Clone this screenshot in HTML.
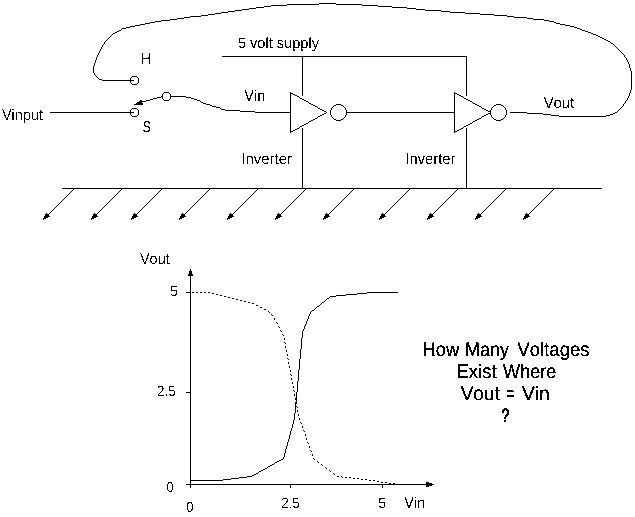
<!DOCTYPE html>
<html><head><meta charset="utf-8"><style>
html,body{margin:0;padding:0;background:#fff;}
svg{display:block;}
text{font-family:"Liberation Sans",sans-serif;font-size:15px;fill:#000;font-kerning:none;text-rendering:geometricPrecision;}
.big{font-size:19px;stroke:#000;stroke-width:0.25px;}
.l path,.l polyline,.l line{fill:none;stroke:#000;stroke-width:1;}
.l .f,.f{fill:#000;stroke:none;}
</style></head><body>
<svg width="635" height="517" viewBox="0 0 635 517">
<defs><filter id="th" x="0" y="0" width="635" height="517" filterUnits="userSpaceOnUse" color-interpolation-filters="sRGB"><feComponentTransfer><feFuncA type="discrete" tableValues="0 1"/></feComponentTransfer></filter><filter id="th2" x="0" y="0" width="635" height="517" filterUnits="userSpaceOnUse" color-interpolation-filters="sRGB"><feComponentTransfer><feFuncA type="discrete" tableValues="0 1"/></feComponentTransfer></filter></defs>
<rect width="635" height="517" fill="#fff"/>
<path fill="#000" shape-rendering="crispEdges" d="M319,3h17v1h-17zM287,4h32v1h-32zM336,4h26v1h-26zM271,5h16v1h-16zM362,5h16v1h-16zM264,6h7v1h-7zM378,6h14v1h-14zM256,7h8v1h-8zM392,7h15v1h-15zM249,8h7v1h-7zM407,8h9v1h-9zM242,9h7v1h-7zM416,9h9v1h-9zM235,10h7v1h-7zM425,10h16v1h-16zM228,11h7v1h-7zM441,11h9v1h-9zM221,12h7v1h-7zM450,12h15v1h-15zM215,13h6v1h-6zM465,13h15v1h-15zM208,14h7v1h-7zM480,14h14v1h-14zM201,15h7v1h-7zM494,15h13v1h-13zM190,16h11v1h-11zM507,16h7v1h-7zM184,17h6v1h-6zM514,17h13v1h-13zM177,18h7v1h-7zM527,18h6v1h-6zM170,19h7v1h-7zM533,19h11v1h-11zM161,20h9v1h-9zM544,20h5v1h-5zM155,21h6v1h-6zM549,21h5v1h-5zM150,22h5v1h-5zM554,22h2v1h-2zM145,23h5v1h-5zM556,23h4v1h-4zM140,24h5v1h-5zM560,24h5v1h-5zM135,25h5v1h-5zM565,25h5v1h-5zM130,26h5v1h-5zM570,26h4v1h-4zM126,27h4v1h-4zM574,27h3v1h-3zM122,28h4v1h-4zM577,28h3v1h-3zM121,29h1v1h-1zM580,29h2v1h-2zM119,30h2v1h-2zM582,30h3v1h-3zM117,31h2v1h-2zM585,31h3v1h-3zM115,32h2v1h-2zM588,32h3v1h-3zM113,33h2v1h-2zM591,33h2v1h-2zM112,34h1v1h-1zM593,34h3v1h-3zM111,35h1v1h-1zM596,35h2v1h-2zM110,36h1v1h-1zM598,36h2v1h-2zM109,37h1v1h-1zM600,37h2v1h-2zM108,38h1v1h-1zM602,38h2v1h-2zM107,39h1v1h-1zM604,39h2v1h-2zM106,40h1v1h-1zM606,40h2v1h-2zM105,41h1v1h-1zM608,41h2v1h-2zM104,42h1v1h-1zM610,42h1v1h-1zM104,43h1v1h-1zM611,43h2v1h-2zM103,44h1v1h-1zM613,44h1v1h-1zM102,45h1v1h-1zM614,45h1v1h-1zM102,46h1v1h-1zM615,46h1v1h-1zM101,47h1v1h-1zM616,47h1v1h-1zM101,48h1v1h-1zM617,48h1v1h-1zM100,49h1v1h-1zM618,49h1v1h-1zM100,50h1v1h-1zM619,50h1v1h-1zM99,51h1v1h-1zM620,51h1v1h-1zM99,52h1v1h-1zM621,52h1v1h-1zM98,53h1v1h-1zM622,53h1v1h-1zM98,54h1v1h-1zM623,54h1v1h-1zM97,55h1v1h-1zM624,55h1v1h-1zM97,56h1v1h-1zM222,56h245v1h-245zM624,56h1v1h-1zM96,57h1v1h-1zM302,57h1v1h-1zM466,57h1v1h-1zM625,57h1v1h-1zM96,58h1v1h-1zM302,58h1v1h-1zM466,58h1v1h-1zM626,58h1v1h-1zM96,59h1v1h-1zM302,59h1v1h-1zM466,59h1v1h-1zM626,59h1v1h-1zM95,60h1v1h-1zM302,60h1v1h-1zM466,60h1v1h-1zM627,60h1v1h-1zM95,61h1v1h-1zM302,61h1v1h-1zM466,61h1v1h-1zM627,61h1v1h-1zM95,62h1v1h-1zM302,62h1v1h-1zM466,62h1v1h-1zM628,62h1v1h-1zM94,63h1v1h-1zM302,63h1v1h-1zM466,63h1v1h-1zM628,63h1v1h-1zM94,64h1v1h-1zM302,64h1v1h-1zM466,64h1v1h-1zM629,64h1v1h-1zM94,65h1v1h-1zM302,65h1v1h-1zM466,65h1v1h-1zM629,65h1v1h-1zM93,66h1v1h-1zM302,66h1v1h-1zM466,66h1v1h-1zM629,66h1v1h-1zM93,67h1v1h-1zM302,67h1v1h-1zM466,67h1v1h-1zM629,67h1v1h-1zM93,68h1v1h-1zM302,68h1v1h-1zM466,68h1v1h-1zM630,68h1v1h-1zM93,69h1v1h-1zM302,69h1v1h-1zM466,69h1v1h-1zM630,69h1v1h-1zM93,70h1v1h-1zM302,70h1v1h-1zM466,70h1v1h-1zM630,70h1v1h-1zM93,71h1v1h-1zM302,71h1v1h-1zM466,71h1v1h-1zM631,71h1v1h-1zM93,72h1v1h-1zM302,72h1v1h-1zM466,72h1v1h-1zM631,72h1v1h-1zM94,73h1v1h-1zM302,73h1v1h-1zM466,73h1v1h-1zM631,73h1v1h-1zM94,74h1v1h-1zM302,74h1v1h-1zM466,74h1v1h-1zM631,74h1v1h-1zM95,75h1v1h-1zM302,75h1v1h-1zM466,75h1v1h-1zM631,75h1v1h-1zM96,76h1v1h-1zM132,76h5v1h-5zM302,76h1v1h-1zM466,76h1v1h-1zM631,76h1v1h-1zM97,77h1v1h-1zM131,77h1v1h-1zM137,77h1v1h-1zM302,77h1v1h-1zM466,77h1v1h-1zM631,77h1v1h-1zM98,78h1v1h-1zM130,78h1v1h-1zM138,78h1v1h-1zM302,78h1v1h-1zM466,78h1v1h-1zM631,78h1v1h-1zM99,79h3v1h-3zM130,79h1v1h-1zM138,79h1v1h-1zM302,79h1v1h-1zM466,79h1v1h-1zM631,79h1v1h-1zM102,80h32v1h-32zM138,80h1v1h-1zM302,80h1v1h-1zM466,80h1v1h-1zM631,80h1v1h-1zM130,81h1v1h-1zM138,81h1v1h-1zM302,81h1v1h-1zM466,81h1v1h-1zM631,81h1v1h-1zM130,82h1v1h-1zM138,82h1v1h-1zM302,82h1v1h-1zM466,82h1v1h-1zM631,82h1v1h-1zM131,83h1v1h-1zM137,83h1v1h-1zM302,83h1v1h-1zM466,83h1v1h-1zM631,83h1v1h-1zM132,84h5v1h-5zM302,84h1v1h-1zM466,84h1v1h-1zM631,84h1v1h-1zM302,85h1v1h-1zM466,85h1v1h-1zM631,85h1v1h-1zM302,86h1v1h-1zM466,86h1v1h-1zM631,86h1v1h-1zM302,87h1v1h-1zM466,87h1v1h-1zM631,87h1v1h-1zM302,88h1v1h-1zM466,88h1v1h-1zM631,88h1v1h-1zM302,89h1v1h-1zM466,89h1v1h-1zM631,89h1v1h-1zM302,90h1v1h-1zM466,90h1v1h-1zM630,90h1v1h-1zM302,91h1v1h-1zM466,91h1v1h-1zM630,91h1v1h-1zM164,92h5v1h-5zM290,92h1v1h-1zM302,92h1v1h-1zM454,92h1v1h-1zM466,92h1v1h-1zM630,92h1v1h-1zM163,93h1v1h-1zM169,93h1v1h-1zM290,93h3v1h-3zM302,93h1v1h-1zM454,93h3v1h-3zM466,93h1v1h-1zM629,93h1v1h-1zM162,94h1v1h-1zM170,94h1v1h-1zM290,94h1v1h-1zM293,94h2v1h-2zM302,94h1v1h-1zM454,94h1v1h-1zM457,94h2v1h-2zM466,94h1v1h-1zM629,94h1v1h-1zM162,95h1v1h-1zM170,95h1v1h-1zM290,95h1v1h-1zM295,95h2v1h-2zM302,95h1v1h-1zM454,95h1v1h-1zM459,95h2v1h-2zM466,95h1v1h-1zM629,95h1v1h-1zM161,96h2v1h-2zM170,96h16v1h-16zM290,96h1v1h-1zM297,96h2v1h-2zM454,96h1v1h-1zM461,96h2v1h-2zM628,96h1v1h-1zM157,97h4v1h-4zM162,97h1v1h-1zM170,97h1v1h-1zM186,97h5v1h-5zM290,97h1v1h-1zM299,97h1v1h-1zM454,97h1v1h-1zM463,97h1v1h-1zM628,97h1v1h-1zM153,98h4v1h-4zM162,98h1v1h-1zM170,98h1v1h-1zM191,98h3v1h-3zM290,98h1v1h-1zM300,98h2v1h-2zM454,98h1v1h-1zM464,98h2v1h-2zM627,98h1v1h-1zM150,99h3v1h-3zM163,99h1v1h-1zM169,99h1v1h-1zM194,99h3v1h-3zM290,99h1v1h-1zM302,99h2v1h-2zM454,99h1v1h-1zM466,99h2v1h-2zM627,99h1v1h-1zM140,100h2v1h-2zM146,100h4v1h-4zM164,100h5v1h-5zM197,100h3v1h-3zM290,100h1v1h-1zM304,100h2v1h-2zM454,100h1v1h-1zM468,100h2v1h-2zM626,100h1v1h-1zM139,101h7v1h-7zM200,101h1v1h-1zM290,101h1v1h-1zM306,101h2v1h-2zM454,101h1v1h-1zM470,101h2v1h-2zM625,101h1v1h-1zM137,102h5v1h-5zM201,102h2v1h-2zM290,102h1v1h-1zM308,102h1v1h-1zM454,102h1v1h-1zM472,102h1v1h-1zM625,102h1v1h-1zM136,103h7v1h-7zM203,103h3v1h-3zM290,103h1v1h-1zM309,103h2v1h-2zM454,103h1v1h-1zM473,103h2v1h-2zM624,103h1v1h-1zM134,104h9v1h-9zM206,104h4v1h-4zM290,104h1v1h-1zM311,104h2v1h-2zM336,104h5v1h-5zM454,104h1v1h-1zM475,104h2v1h-2zM496,104h5v1h-5zM623,104h1v1h-1zM210,105h2v1h-2zM290,105h1v1h-1zM313,105h2v1h-2zM334,105h2v1h-2zM341,105h2v1h-2zM454,105h1v1h-1zM477,105h2v1h-2zM494,105h2v1h-2zM501,105h2v1h-2zM623,105h1v1h-1zM212,106h4v1h-4zM290,106h1v1h-1zM315,106h2v1h-2zM333,106h1v1h-1zM343,106h1v1h-1zM454,106h1v1h-1zM479,106h2v1h-2zM493,106h1v1h-1zM503,106h1v1h-1zM622,106h1v1h-1zM216,107h4v1h-4zM290,107h1v1h-1zM317,107h1v1h-1zM332,107h1v1h-1zM344,107h1v1h-1zM454,107h1v1h-1zM481,107h1v1h-1zM492,107h1v1h-1zM504,107h1v1h-1zM621,107h1v1h-1zM132,108h5v1h-5zM220,108h1v1h-1zM290,108h1v1h-1zM318,108h2v1h-2zM331,108h1v1h-1zM345,108h1v1h-1zM454,108h1v1h-1zM482,108h2v1h-2zM491,108h1v1h-1zM505,108h1v1h-1zM620,108h1v1h-1zM131,109h1v1h-1zM137,109h1v1h-1zM221,109h4v1h-4zM290,109h1v1h-1zM320,109h2v1h-2zM331,109h1v1h-1zM345,109h1v1h-1zM454,109h1v1h-1zM484,109h2v1h-2zM491,109h1v1h-1zM505,109h1v1h-1zM619,109h1v1h-1zM130,110h1v1h-1zM138,110h1v1h-1zM225,110h15v1h-15zM290,110h1v1h-1zM322,110h2v1h-2zM330,110h1v1h-1zM346,110h1v1h-1zM454,110h1v1h-1zM486,110h2v1h-2zM490,110h1v1h-1zM506,110h1v1h-1zM618,110h1v1h-1zM130,111h1v1h-1zM138,111h1v1h-1zM240,111h15v1h-15zM290,111h1v1h-1zM324,111h2v1h-2zM330,111h1v1h-1zM346,111h1v1h-1zM454,111h1v1h-1zM488,111h3v1h-3zM506,111h1v1h-1zM617,111h1v1h-1zM50,112h84v1h-84zM138,112h1v1h-1zM255,112h36v1h-36zM326,112h1v1h-1zM330,112h1v1h-1zM346,112h109v1h-109zM490,112h1v1h-1zM506,112h1v1h-1zM510,112h17v1h-17zM615,112h2v1h-2zM130,113h1v1h-1zM138,113h1v1h-1zM290,113h1v1h-1zM324,113h2v1h-2zM330,113h1v1h-1zM346,113h1v1h-1zM454,113h1v1h-1zM488,113h3v1h-3zM506,113h1v1h-1zM527,113h16v1h-16zM613,113h2v1h-2zM130,114h1v1h-1zM138,114h1v1h-1zM290,114h1v1h-1zM322,114h2v1h-2zM330,114h1v1h-1zM346,114h1v1h-1zM454,114h1v1h-1zM486,114h2v1h-2zM490,114h1v1h-1zM506,114h1v1h-1zM543,114h8v1h-8zM610,114h3v1h-3zM131,115h1v1h-1zM137,115h1v1h-1zM290,115h1v1h-1zM320,115h2v1h-2zM331,115h1v1h-1zM345,115h1v1h-1zM454,115h1v1h-1zM484,115h2v1h-2zM491,115h1v1h-1zM505,115h1v1h-1zM551,115h8v1h-8zM606,115h4v1h-4zM132,116h5v1h-5zM290,116h1v1h-1zM318,116h2v1h-2zM331,116h1v1h-1zM345,116h1v1h-1zM454,116h1v1h-1zM482,116h2v1h-2zM491,116h1v1h-1zM505,116h1v1h-1zM559,116h47v1h-47zM290,117h1v1h-1zM317,117h1v1h-1zM332,117h1v1h-1zM344,117h1v1h-1zM454,117h1v1h-1zM481,117h1v1h-1zM492,117h1v1h-1zM504,117h1v1h-1zM290,118h1v1h-1zM315,118h2v1h-2zM333,118h1v1h-1zM343,118h1v1h-1zM454,118h1v1h-1zM479,118h2v1h-2zM493,118h1v1h-1zM503,118h1v1h-1zM290,119h1v1h-1zM313,119h2v1h-2zM334,119h2v1h-2zM341,119h2v1h-2zM454,119h1v1h-1zM477,119h2v1h-2zM494,119h2v1h-2zM501,119h2v1h-2zM290,120h1v1h-1zM311,120h2v1h-2zM336,120h5v1h-5zM454,120h1v1h-1zM475,120h2v1h-2zM496,120h5v1h-5zM290,121h1v1h-1zM309,121h2v1h-2zM454,121h1v1h-1zM473,121h2v1h-2zM290,122h1v1h-1zM308,122h1v1h-1zM454,122h1v1h-1zM472,122h1v1h-1zM290,123h1v1h-1zM306,123h2v1h-2zM454,123h1v1h-1zM470,123h2v1h-2zM290,124h1v1h-1zM304,124h2v1h-2zM454,124h1v1h-1zM468,124h2v1h-2zM290,125h1v1h-1zM302,125h2v1h-2zM454,125h1v1h-1zM466,125h2v1h-2zM290,126h1v1h-1zM300,126h2v1h-2zM454,126h1v1h-1zM464,126h2v1h-2zM290,127h1v1h-1zM299,127h1v1h-1zM454,127h1v1h-1zM463,127h1v1h-1zM290,128h1v1h-1zM297,128h2v1h-2zM302,128h1v1h-1zM454,128h1v1h-1zM461,128h2v1h-2zM466,128h1v1h-1zM290,129h1v1h-1zM295,129h2v1h-2zM302,129h1v1h-1zM454,129h1v1h-1zM459,129h2v1h-2zM466,129h1v1h-1zM290,130h1v1h-1zM293,130h2v1h-2zM302,130h1v1h-1zM454,130h1v1h-1zM457,130h2v1h-2zM466,130h1v1h-1zM290,131h3v1h-3zM302,131h1v1h-1zM454,131h3v1h-3zM466,131h1v1h-1zM290,132h1v1h-1zM302,132h1v1h-1zM454,132h1v1h-1zM466,132h1v1h-1zM302,133h1v1h-1zM466,133h1v1h-1zM302,134h1v1h-1zM466,134h1v1h-1zM302,135h1v1h-1zM466,135h1v1h-1zM302,136h1v1h-1zM466,136h1v1h-1zM302,137h1v1h-1zM466,137h1v1h-1zM302,138h1v1h-1zM466,138h1v1h-1zM302,139h1v1h-1zM466,139h1v1h-1zM302,140h1v1h-1zM466,140h1v1h-1zM302,141h1v1h-1zM466,141h1v1h-1zM302,142h1v1h-1zM466,142h1v1h-1zM302,143h1v1h-1zM466,143h1v1h-1zM302,144h1v1h-1zM466,144h1v1h-1zM302,145h1v1h-1zM466,145h1v1h-1zM302,146h1v1h-1zM466,146h1v1h-1zM302,147h1v1h-1zM466,147h1v1h-1zM302,148h1v1h-1zM466,148h1v1h-1zM302,149h1v1h-1zM466,149h1v1h-1zM302,150h1v1h-1zM466,150h1v1h-1zM302,151h1v1h-1zM466,151h1v1h-1zM302,152h1v1h-1zM466,152h1v1h-1zM302,153h1v1h-1zM466,153h1v1h-1zM302,154h1v1h-1zM466,154h1v1h-1zM302,155h1v1h-1zM466,155h1v1h-1zM302,156h1v1h-1zM466,156h1v1h-1zM302,157h1v1h-1zM466,157h1v1h-1zM302,158h1v1h-1zM466,158h1v1h-1zM302,159h1v1h-1zM466,159h1v1h-1zM302,160h1v1h-1zM466,160h1v1h-1zM302,161h1v1h-1zM466,161h1v1h-1zM302,162h1v1h-1zM466,162h1v1h-1zM302,163h1v1h-1zM466,163h1v1h-1zM302,164h1v1h-1zM466,164h1v1h-1zM302,165h1v1h-1zM466,165h1v1h-1zM302,166h1v1h-1zM466,166h1v1h-1zM302,167h1v1h-1zM466,167h1v1h-1zM302,168h1v1h-1zM466,168h1v1h-1zM302,169h1v1h-1zM466,169h1v1h-1zM302,170h1v1h-1zM466,170h1v1h-1zM302,171h1v1h-1zM466,171h1v1h-1zM302,172h1v1h-1zM466,172h1v1h-1zM302,173h1v1h-1zM466,173h1v1h-1zM302,174h1v1h-1zM466,174h1v1h-1zM302,175h1v1h-1zM466,175h1v1h-1zM302,176h1v1h-1zM466,176h1v1h-1zM302,177h1v1h-1zM466,177h1v1h-1zM302,178h1v1h-1zM466,178h1v1h-1zM302,179h1v1h-1zM466,179h1v1h-1zM302,180h1v1h-1zM466,180h1v1h-1zM302,181h1v1h-1zM466,181h1v1h-1zM302,182h1v1h-1zM466,182h1v1h-1zM302,183h1v1h-1zM466,183h1v1h-1zM302,184h1v1h-1zM466,184h1v1h-1zM302,185h1v1h-1zM466,185h1v1h-1zM302,186h1v1h-1zM466,186h1v1h-1zM302,187h1v1h-1zM466,187h1v1h-1zM62,188h540v1h-540zM73,189h1v1h-1zM121,189h1v1h-1zM161,189h1v1h-1zM209,189h1v1h-1zM257,189h1v1h-1zM305,189h1v1h-1zM353,189h1v1h-1zM409,189h1v1h-1zM457,189h1v1h-1zM505,189h1v1h-1zM553,189h1v1h-1zM72,190h1v1h-1zM120,190h1v1h-1zM160,190h1v1h-1zM208,190h1v1h-1zM256,190h1v1h-1zM304,190h1v1h-1zM352,190h1v1h-1zM408,190h1v1h-1zM456,190h1v1h-1zM504,190h1v1h-1zM552,190h1v1h-1zM71,191h1v1h-1zM119,191h1v1h-1zM159,191h1v1h-1zM207,191h1v1h-1zM255,191h1v1h-1zM303,191h1v1h-1zM351,191h1v1h-1zM407,191h1v1h-1zM455,191h1v1h-1zM503,191h1v1h-1zM551,191h1v1h-1zM70,192h1v1h-1zM118,192h1v1h-1zM158,192h1v1h-1zM206,192h1v1h-1zM254,192h1v1h-1zM302,192h1v1h-1zM350,192h1v1h-1zM406,192h1v1h-1zM454,192h1v1h-1zM502,192h1v1h-1zM550,192h1v1h-1zM69,193h1v1h-1zM117,193h1v1h-1zM157,193h1v1h-1zM205,193h1v1h-1zM253,193h1v1h-1zM301,193h1v1h-1zM349,193h1v1h-1zM405,193h1v1h-1zM453,193h1v1h-1zM501,193h1v1h-1zM549,193h1v1h-1zM68,194h1v1h-1zM116,194h1v1h-1zM156,194h1v1h-1zM204,194h1v1h-1zM252,194h1v1h-1zM300,194h1v1h-1zM348,194h1v1h-1zM404,194h1v1h-1zM452,194h1v1h-1zM500,194h1v1h-1zM548,194h1v1h-1zM67,195h1v1h-1zM115,195h1v1h-1zM155,195h1v1h-1zM203,195h1v1h-1zM251,195h1v1h-1zM299,195h1v1h-1zM347,195h1v1h-1zM403,195h1v1h-1zM451,195h1v1h-1zM499,195h1v1h-1zM547,195h1v1h-1zM66,196h1v1h-1zM114,196h1v1h-1zM154,196h1v1h-1zM202,196h1v1h-1zM250,196h1v1h-1zM298,196h1v1h-1zM346,196h1v1h-1zM402,196h1v1h-1zM450,196h1v1h-1zM498,196h1v1h-1zM546,196h1v1h-1zM65,197h1v1h-1zM113,197h1v1h-1zM153,197h1v1h-1zM201,197h1v1h-1zM249,197h1v1h-1zM297,197h1v1h-1zM345,197h1v1h-1zM401,197h1v1h-1zM449,197h1v1h-1zM497,197h1v1h-1zM545,197h1v1h-1zM64,198h1v1h-1zM112,198h1v1h-1zM152,198h1v1h-1zM200,198h1v1h-1zM248,198h1v1h-1zM296,198h1v1h-1zM344,198h1v1h-1zM400,198h1v1h-1zM448,198h1v1h-1zM496,198h1v1h-1zM544,198h1v1h-1zM63,199h1v1h-1zM111,199h1v1h-1zM151,199h1v1h-1zM199,199h1v1h-1zM247,199h1v1h-1zM295,199h1v1h-1zM343,199h1v1h-1zM399,199h1v1h-1zM447,199h1v1h-1zM495,199h1v1h-1zM543,199h1v1h-1zM62,200h1v1h-1zM110,200h1v1h-1zM150,200h1v1h-1zM198,200h1v1h-1zM246,200h1v1h-1zM294,200h1v1h-1zM342,200h1v1h-1zM398,200h1v1h-1zM446,200h1v1h-1zM494,200h1v1h-1zM542,200h1v1h-1zM61,201h1v1h-1zM109,201h1v1h-1zM149,201h1v1h-1zM197,201h1v1h-1zM245,201h1v1h-1zM293,201h1v1h-1zM341,201h1v1h-1zM397,201h1v1h-1zM445,201h1v1h-1zM493,201h1v1h-1zM541,201h1v1h-1zM60,202h1v1h-1zM108,202h1v1h-1zM148,202h1v1h-1zM196,202h1v1h-1zM244,202h1v1h-1zM292,202h1v1h-1zM340,202h1v1h-1zM396,202h1v1h-1zM444,202h1v1h-1zM492,202h1v1h-1zM540,202h1v1h-1zM59,203h1v1h-1zM107,203h1v1h-1zM147,203h1v1h-1zM195,203h1v1h-1zM243,203h1v1h-1zM291,203h1v1h-1zM339,203h1v1h-1zM395,203h1v1h-1zM443,203h1v1h-1zM491,203h1v1h-1zM539,203h1v1h-1zM58,204h1v1h-1zM106,204h1v1h-1zM146,204h1v1h-1zM194,204h1v1h-1zM242,204h1v1h-1zM290,204h1v1h-1zM338,204h1v1h-1zM394,204h1v1h-1zM442,204h1v1h-1zM490,204h1v1h-1zM538,204h1v1h-1zM57,205h1v1h-1zM105,205h1v1h-1zM145,205h1v1h-1zM193,205h1v1h-1zM241,205h1v1h-1zM289,205h1v1h-1zM337,205h1v1h-1zM393,205h1v1h-1zM441,205h1v1h-1zM489,205h1v1h-1zM537,205h1v1h-1zM56,206h1v1h-1zM104,206h1v1h-1zM144,206h1v1h-1zM192,206h1v1h-1zM240,206h1v1h-1zM288,206h1v1h-1zM336,206h1v1h-1zM392,206h1v1h-1zM440,206h1v1h-1zM488,206h1v1h-1zM536,206h1v1h-1zM55,207h1v1h-1zM103,207h1v1h-1zM143,207h1v1h-1zM191,207h1v1h-1zM239,207h1v1h-1zM287,207h1v1h-1zM335,207h1v1h-1zM391,207h1v1h-1zM439,207h1v1h-1zM487,207h1v1h-1zM535,207h1v1h-1zM54,208h1v1h-1zM102,208h1v1h-1zM142,208h1v1h-1zM190,208h1v1h-1zM238,208h1v1h-1zM286,208h1v1h-1zM334,208h1v1h-1zM390,208h1v1h-1zM438,208h1v1h-1zM486,208h1v1h-1zM534,208h1v1h-1zM53,209h1v1h-1zM101,209h1v1h-1zM141,209h1v1h-1zM189,209h1v1h-1zM237,209h1v1h-1zM285,209h1v1h-1zM333,209h1v1h-1zM389,209h1v1h-1zM437,209h1v1h-1zM485,209h1v1h-1zM533,209h1v1h-1zM52,210h1v1h-1zM100,210h1v1h-1zM140,210h1v1h-1zM188,210h1v1h-1zM236,210h1v1h-1zM284,210h1v1h-1zM332,210h1v1h-1zM388,210h1v1h-1zM436,210h1v1h-1zM484,210h1v1h-1zM532,210h1v1h-1zM51,211h1v1h-1zM99,211h1v1h-1zM139,211h1v1h-1zM187,211h1v1h-1zM235,211h1v1h-1zM283,211h1v1h-1zM331,211h1v1h-1zM387,211h1v1h-1zM435,211h1v1h-1zM483,211h1v1h-1zM531,211h1v1h-1zM50,212h1v1h-1zM98,212h1v1h-1zM138,212h1v1h-1zM186,212h1v1h-1zM234,212h1v1h-1zM282,212h1v1h-1zM330,212h1v1h-1zM386,212h1v1h-1zM434,212h1v1h-1zM482,212h1v1h-1zM530,212h1v1h-1zM46,213h1v1h-1zM49,213h1v1h-1zM94,213h1v1h-1zM97,213h1v1h-1zM134,213h1v1h-1zM137,213h1v1h-1zM182,213h1v1h-1zM185,213h1v1h-1zM230,213h1v1h-1zM233,213h1v1h-1zM278,213h1v1h-1zM281,213h1v1h-1zM326,213h1v1h-1zM329,213h1v1h-1zM382,213h1v1h-1zM385,213h1v1h-1zM430,213h1v1h-1zM433,213h1v1h-1zM478,213h1v1h-1zM481,213h1v1h-1zM526,213h1v1h-1zM529,213h1v1h-1zM45,214h4v1h-4zM93,214h4v1h-4zM133,214h4v1h-4zM181,214h4v1h-4zM229,214h4v1h-4zM277,214h4v1h-4zM325,214h4v1h-4zM381,214h4v1h-4zM429,214h4v1h-4zM477,214h4v1h-4zM525,214h4v1h-4zM45,215h4v1h-4zM93,215h4v1h-4zM133,215h4v1h-4zM181,215h4v1h-4zM229,215h4v1h-4zM277,215h4v1h-4zM325,215h4v1h-4zM381,215h4v1h-4zM429,215h4v1h-4zM477,215h4v1h-4zM525,215h4v1h-4zM44,216h6v1h-6zM92,216h6v1h-6zM132,216h6v1h-6zM180,216h6v1h-6zM228,216h6v1h-6zM276,216h6v1h-6zM324,216h6v1h-6zM380,216h6v1h-6zM428,216h6v1h-6zM476,216h6v1h-6zM524,216h6v1h-6zM44,217h4v1h-4zM92,217h4v1h-4zM132,217h4v1h-4zM180,217h4v1h-4zM228,217h4v1h-4zM276,217h4v1h-4zM324,217h4v1h-4zM380,217h4v1h-4zM428,217h4v1h-4zM476,217h4v1h-4zM524,217h4v1h-4zM43,218h3v1h-3zM91,218h3v1h-3zM131,218h3v1h-3zM179,218h3v1h-3zM227,218h3v1h-3zM275,218h3v1h-3zM323,218h3v1h-3zM379,218h3v1h-3zM427,218h3v1h-3zM475,218h3v1h-3zM523,218h3v1h-3zM43,219h1v1h-1zM91,219h1v1h-1zM131,219h1v1h-1zM179,219h1v1h-1zM227,219h1v1h-1zM275,219h1v1h-1zM323,219h1v1h-1zM379,219h1v1h-1zM427,219h1v1h-1zM475,219h1v1h-1zM523,219h1v1h-1zM190,269h1v1h-1zM190,270h1v1h-1zM189,271h3v1h-3zM189,272h3v1h-3zM189,273h3v1h-3zM188,274h5v1h-5zM188,275h5v1h-5zM190,276h1v1h-1zM190,277h1v1h-1zM190,278h1v1h-1zM190,279h1v1h-1zM190,280h1v1h-1zM190,281h1v1h-1zM190,282h1v1h-1zM190,283h1v1h-1zM190,284h1v1h-1zM190,285h1v1h-1zM190,286h1v1h-1zM190,287h1v1h-1zM190,288h1v1h-1zM190,289h1v1h-1zM190,290h1v1h-1zM190,291h1v1h-1zM186,292h5v1h-5zM192,292h2v1h-2zM196,292h2v1h-2zM200,292h2v1h-2zM204,292h2v1h-2zM208,292h2v1h-2zM367,292h31v1h-31zM190,293h1v1h-1zM212,293h2v1h-2zM357,293h10v1h-10zM190,294h1v1h-1zM216,294h2v1h-2zM346,294h11v1h-11zM190,295h1v1h-1zM220,295h2v1h-2zM336,295h10v1h-10zM190,296h1v1h-1zM224,296h2v1h-2zM330,296h6v1h-6zM190,297h1v1h-1zM228,297h2v1h-2zM329,297h1v1h-1zM190,298h1v1h-1zM232,298h2v1h-2zM327,298h2v1h-2zM190,299h1v1h-1zM236,299h2v1h-2zM326,299h1v1h-1zM190,300h1v1h-1zM240,300h2v1h-2zM325,300h1v1h-1zM190,301h1v1h-1zM244,301h2v1h-2zM324,301h1v1h-1zM190,302h1v1h-1zM248,302h2v1h-2zM322,302h2v1h-2zM190,303h1v1h-1zM252,303h2v1h-2zM321,303h1v1h-1zM190,304h1v1h-1zM320,304h1v1h-1zM190,305h1v1h-1zM256,305h2v1h-2zM319,305h1v1h-1zM190,306h1v1h-1zM317,306h2v1h-2zM190,307h1v1h-1zM260,307h2v1h-2zM316,307h1v1h-1zM190,308h1v1h-1zM315,308h1v1h-1zM190,309h1v1h-1zM264,309h2v1h-2zM314,309h1v1h-1zM190,310h1v1h-1zM312,310h2v1h-2zM190,311h1v1h-1zM268,311h1v1h-1zM311,311h1v1h-1zM190,312h1v1h-1zM269,312h1v1h-1zM310,312h1v1h-1zM190,313h1v1h-1zM310,313h1v1h-1zM190,314h1v1h-1zM271,314h1v1h-1zM309,314h1v1h-1zM190,315h1v1h-1zM272,315h1v1h-1zM309,315h1v1h-1zM190,316h1v1h-1zM308,316h1v1h-1zM190,317h1v1h-1zM308,317h1v1h-1zM190,318h1v1h-1zM274,318h1v1h-1zM308,318h1v1h-1zM190,319h1v1h-1zM274,319h1v1h-1zM307,319h1v1h-1zM190,320h1v1h-1zM307,320h1v1h-1zM190,321h1v1h-1zM306,321h1v1h-1zM190,322h1v1h-1zM276,322h1v1h-1zM306,322h1v1h-1zM190,323h1v1h-1zM277,323h1v1h-1zM306,323h1v1h-1zM190,324h1v1h-1zM305,324h1v1h-1zM190,325h1v1h-1zM305,325h1v1h-1zM190,326h1v1h-1zM278,326h1v1h-1zM304,326h1v1h-1zM190,327h1v1h-1zM279,327h1v1h-1zM304,327h1v1h-1zM190,328h1v1h-1zM304,328h1v1h-1zM190,329h1v1h-1zM303,329h1v1h-1zM190,330h1v1h-1zM280,330h1v1h-1zM303,330h1v1h-1zM190,331h1v1h-1zM281,331h1v1h-1zM302,331h1v1h-1zM190,332h1v1h-1zM302,332h1v1h-1zM190,333h1v1h-1zM302,333h1v1h-1zM190,334h1v1h-1zM282,334h1v1h-1zM302,334h1v1h-1zM190,335h1v1h-1zM283,335h1v1h-1zM302,335h1v1h-1zM190,336h1v1h-1zM302,336h1v1h-1zM190,337h1v1h-1zM302,337h1v1h-1zM190,338h1v1h-1zM284,338h1v1h-1zM301,338h1v1h-1zM190,339h1v1h-1zM284,339h1v1h-1zM301,339h1v1h-1zM190,340h1v1h-1zM301,340h1v1h-1zM190,341h1v1h-1zM301,341h1v1h-1zM190,342h1v1h-1zM284,342h1v1h-1zM301,342h1v1h-1zM190,343h1v1h-1zM285,343h1v1h-1zM301,343h1v1h-1zM190,344h1v1h-1zM301,344h1v1h-1zM190,345h1v1h-1zM301,345h1v1h-1zM190,346h1v1h-1zM285,346h1v1h-1zM301,346h1v1h-1zM190,347h1v1h-1zM285,347h1v1h-1zM301,347h1v1h-1zM190,348h1v1h-1zM301,348h1v1h-1zM190,349h1v1h-1zM300,349h1v1h-1zM190,350h1v1h-1zM286,350h1v1h-1zM300,350h1v1h-1zM190,351h1v1h-1zM286,351h1v1h-1zM300,351h1v1h-1zM190,352h1v1h-1zM300,352h1v1h-1zM190,353h1v1h-1zM300,353h1v1h-1zM190,354h1v1h-1zM287,354h1v1h-1zM300,354h1v1h-1zM190,355h1v1h-1zM287,355h1v1h-1zM300,355h1v1h-1zM190,356h1v1h-1zM300,356h1v1h-1zM190,357h1v1h-1zM300,357h1v1h-1zM190,358h1v1h-1zM287,358h1v1h-1zM300,358h1v1h-1zM190,359h1v1h-1zM288,359h1v1h-1zM299,359h1v1h-1zM190,360h1v1h-1zM299,360h1v1h-1zM190,361h1v1h-1zM299,361h1v1h-1zM190,362h1v1h-1zM288,362h1v1h-1zM299,362h1v1h-1zM190,363h1v1h-1zM288,363h1v1h-1zM299,363h1v1h-1zM190,364h1v1h-1zM299,364h1v1h-1zM190,365h1v1h-1zM299,365h1v1h-1zM190,366h1v1h-1zM289,366h1v1h-1zM299,366h1v1h-1zM190,367h1v1h-1zM289,367h1v1h-1zM299,367h1v1h-1zM190,368h1v1h-1zM299,368h1v1h-1zM190,369h1v1h-1zM299,369h1v1h-1zM190,370h1v1h-1zM290,370h1v1h-1zM298,370h1v1h-1zM190,371h1v1h-1zM290,371h1v1h-1zM298,371h1v1h-1zM190,372h1v1h-1zM298,372h1v1h-1zM190,373h1v1h-1zM298,373h1v1h-1zM190,374h1v1h-1zM290,374h1v1h-1zM298,374h1v1h-1zM190,375h1v1h-1zM291,375h1v1h-1zM298,375h1v1h-1zM190,376h1v1h-1zM298,376h1v1h-1zM190,377h1v1h-1zM298,377h1v1h-1zM190,378h1v1h-1zM291,378h1v1h-1zM298,378h1v1h-1zM190,379h1v1h-1zM291,379h1v1h-1zM298,379h1v1h-1zM190,380h1v1h-1zM298,380h1v1h-1zM190,381h1v1h-1zM297,381h1v1h-1zM190,382h1v1h-1zM292,382h1v1h-1zM297,382h1v1h-1zM190,383h1v1h-1zM292,383h1v1h-1zM297,383h1v1h-1zM190,384h1v1h-1zM297,384h1v1h-1zM190,385h1v1h-1zM297,385h1v1h-1zM190,386h1v1h-1zM293,386h1v1h-1zM297,386h1v1h-1zM190,387h1v1h-1zM293,387h1v1h-1zM297,387h1v1h-1zM190,388h1v1h-1zM297,388h1v1h-1zM190,389h1v1h-1zM297,389h1v1h-1zM190,390h1v1h-1zM293,390h1v1h-1zM297,390h1v1h-1zM190,391h1v1h-1zM294,391h1v1h-1zM297,391h1v1h-1zM186,392h5v1h-5zM296,392h1v1h-1zM190,393h1v1h-1zM296,393h1v1h-1zM190,394h1v1h-1zM294,394h1v1h-1zM296,394h1v1h-1zM190,395h1v1h-1zM294,395h1v1h-1zM296,395h1v1h-1zM190,396h1v1h-1zM296,396h1v1h-1zM190,397h1v1h-1zM296,397h1v1h-1zM190,398h1v1h-1zM295,398h2v1h-2zM190,399h1v1h-1zM295,399h2v1h-2zM190,400h1v1h-1zM296,400h1v1h-1zM190,401h1v1h-1zM296,401h1v1h-1zM190,402h1v1h-1zM295,402h2v1h-2zM190,403h1v1h-1zM295,403h2v1h-2zM190,404h1v1h-1zM295,404h1v1h-1zM190,405h1v1h-1zM295,405h1v1h-1zM190,406h1v1h-1zM295,406h2v1h-2zM190,407h1v1h-1zM295,407h1v1h-1zM297,407h1v1h-1zM190,408h1v1h-1zM295,408h1v1h-1zM190,409h1v1h-1zM295,409h1v1h-1zM190,410h1v1h-1zM295,410h1v1h-1zM297,410h1v1h-1zM190,411h1v1h-1zM295,411h1v1h-1zM297,411h1v1h-1zM190,412h1v1h-1zM295,412h1v1h-1zM190,413h1v1h-1zM294,413h1v1h-1zM190,414h1v1h-1zM294,414h1v1h-1zM298,414h1v1h-1zM190,415h1v1h-1zM294,415h1v1h-1zM298,415h1v1h-1zM190,416h1v1h-1zM294,416h1v1h-1zM190,417h1v1h-1zM294,417h1v1h-1zM190,418h1v1h-1zM294,418h1v1h-1zM299,418h1v1h-1zM190,419h1v1h-1zM294,419h1v1h-1zM299,419h1v1h-1zM190,420h1v1h-1zM293,420h1v1h-1zM190,421h1v1h-1zM293,421h1v1h-1zM190,422h1v1h-1zM293,422h1v1h-1zM300,422h1v1h-1zM190,423h1v1h-1zM293,423h1v1h-1zM301,423h1v1h-1zM190,424h1v1h-1zM292,424h1v1h-1zM190,425h1v1h-1zM292,425h1v1h-1zM190,426h1v1h-1zM292,426h1v1h-1zM302,426h1v1h-1zM190,427h1v1h-1zM292,427h1v1h-1zM302,427h1v1h-1zM190,428h1v1h-1zM291,428h1v1h-1zM190,429h1v1h-1zM291,429h1v1h-1zM190,430h1v1h-1zM291,430h1v1h-1zM303,430h1v1h-1zM190,431h1v1h-1zM290,431h1v1h-1zM304,431h1v1h-1zM190,432h1v1h-1zM290,432h1v1h-1zM190,433h1v1h-1zM290,433h1v1h-1zM190,434h1v1h-1zM290,434h1v1h-1zM305,434h1v1h-1zM190,435h1v1h-1zM289,435h1v1h-1zM305,435h1v1h-1zM190,436h1v1h-1zM289,436h1v1h-1zM190,437h1v1h-1zM289,437h1v1h-1zM190,438h1v1h-1zM289,438h1v1h-1zM306,438h1v1h-1zM190,439h1v1h-1zM288,439h1v1h-1zM306,439h1v1h-1zM190,440h1v1h-1zM288,440h1v1h-1zM190,441h1v1h-1zM288,441h1v1h-1zM190,442h1v1h-1zM287,442h1v1h-1zM307,442h1v1h-1zM190,443h1v1h-1zM287,443h1v1h-1zM308,443h1v1h-1zM190,444h1v1h-1zM287,444h1v1h-1zM190,445h1v1h-1zM287,445h1v1h-1zM190,446h1v1h-1zM286,446h1v1h-1zM309,446h1v1h-1zM190,447h1v1h-1zM286,447h1v1h-1zM309,447h1v1h-1zM190,448h1v1h-1zM286,448h1v1h-1zM190,449h1v1h-1zM285,449h1v1h-1zM190,450h1v1h-1zM285,450h1v1h-1zM310,450h1v1h-1zM190,451h1v1h-1zM285,451h1v1h-1zM311,451h1v1h-1zM190,452h1v1h-1zM285,452h1v1h-1zM190,453h1v1h-1zM284,453h1v1h-1zM190,454h1v1h-1zM284,454h1v1h-1zM312,454h1v1h-1zM190,455h1v1h-1zM284,455h1v1h-1zM312,455h1v1h-1zM190,456h1v1h-1zM284,456h1v1h-1zM190,457h1v1h-1zM283,457h1v1h-1zM190,458h1v1h-1zM283,458h1v1h-1zM313,458h1v1h-1zM190,459h1v1h-1zM281,459h2v1h-2zM314,459h1v1h-1zM190,460h1v1h-1zM279,460h2v1h-2zM190,461h1v1h-1zM277,461h2v1h-2zM317,461h1v1h-1zM190,462h1v1h-1zM275,462h2v1h-2zM318,462h1v1h-1zM190,463h1v1h-1zM274,463h1v1h-1zM190,464h1v1h-1zM272,464h2v1h-2zM321,464h1v1h-1zM190,465h1v1h-1zM270,465h2v1h-2zM322,465h1v1h-1zM190,466h1v1h-1zM268,466h2v1h-2zM190,467h1v1h-1zM267,467h1v1h-1zM325,467h1v1h-1zM190,468h1v1h-1zM265,468h2v1h-2zM326,468h1v1h-1zM190,469h1v1h-1zM263,469h2v1h-2zM190,470h1v1h-1zM261,470h2v1h-2zM329,470h1v1h-1zM190,471h1v1h-1zM259,471h2v1h-2zM330,471h1v1h-1zM190,472h1v1h-1zM258,472h1v1h-1zM190,473h1v1h-1zM256,473h2v1h-2zM333,473h1v1h-1zM190,474h1v1h-1zM254,474h2v1h-2zM334,474h1v1h-1zM190,475h1v1h-1zM252,475h2v1h-2zM190,476h1v1h-1zM247,476h5v1h-5zM337,476h2v1h-2zM341,476h1v1h-1zM190,477h1v1h-1zM239,477h8v1h-8zM342,477h1v1h-1zM345,477h2v1h-2zM349,477h2v1h-2zM190,478h1v1h-1zM231,478h8v1h-8zM353,478h2v1h-2zM357,478h2v1h-2zM190,479h1v1h-1zM223,479h8v1h-8zM361,479h2v1h-2zM365,479h2v1h-2zM190,480h33v1h-33zM369,480h2v1h-2zM373,480h2v1h-2zM190,481h1v1h-1zM377,481h2v1h-2zM190,482h1v1h-1zM381,482h2v1h-2zM385,482h2v1h-2zM426,482h3v1h-3zM190,483h1v1h-1zM389,483h2v1h-2zM393,483h2v1h-2zM426,483h6v1h-6zM186,484h248v1h-248zM190,485h1v1h-1zM290,485h1v1h-1zM382,485h1v1h-1zM426,485h6v1h-6zM190,486h1v1h-1zM290,486h1v1h-1zM382,486h1v1h-1zM426,486h3v1h-3zM190,487h1v1h-1zM290,487h1v1h-1zM382,487h1v1h-1z"/>
<g filter="url(#th)"><text transform="translate(237.92,48) scale(0.9716,1.0)">5 volt supply</text><text transform="translate(140.83,64) scale(0.9548,1.04)">H</text><text transform="translate(142.42,132) scale(0.8454,1.04)">S</text><text transform="translate(1.94,120) scale(0.968,1.04)">Vinput</text><text transform="translate(244.34,101) scale(0.9642,1.04)">Vin</text><text transform="translate(543.73,108) scale(0.9876,1.04)">Vout</text><text transform="translate(241.32,164) scale(0.9976,1.04)">Inverter</text><text transform="translate(405.44,164) scale(0.9813,1.04)">Inverter</text><text transform="translate(139.94,264) scale(0.9648,1.04)">Vout</text><text transform="translate(170.03,296) scale(0.9562,1.0)">5</text><text transform="translate(157.02,396) scale(0.8989,1.0)">2.5</text><text transform="translate(166.5,492) scale(0.8507,1.0)">0</text><text transform="translate(186.52,512) scale(0.8228,1.0)">0</text><text transform="translate(281.13,508) scale(0.8938,1.0)">2.5</text><text transform="translate(378.13,508) scale(0.9421,1.0)">5</text><text transform="translate(404.24,508) scale(0.9642,1.04)">Vin</text>
</g><g filter="url(#th2)"><text class="big" transform="translate(422.38,356) scale(0.9727,1.03)">How</text><text class="big" transform="translate(465.02,356) scale(0.9473,1.03)">Many</text><text class="big" transform="translate(517.22,356) scale(0.9799,1.03)">Voltages</text><text class="big" transform="translate(456.48,378) scale(0.9753,1.03)">Exist</text><text class="big" transform="translate(503.12,378) scale(0.9485,1.03)">Where</text><text class="big" transform="translate(460.72,400) scale(0.9984,1.03)">Vout</text><text class="big" transform="translate(506.33,400) scale(0.7258,1.03)">=</text><text class="big" transform="translate(521.92,400) scale(1.0098,1.03)">Vin</text><text class="big" transform="translate(501.85,422) scale(0.7047,1.03)" style="stroke-width:0.9px">?</text></g>
</svg>
</body></html>
